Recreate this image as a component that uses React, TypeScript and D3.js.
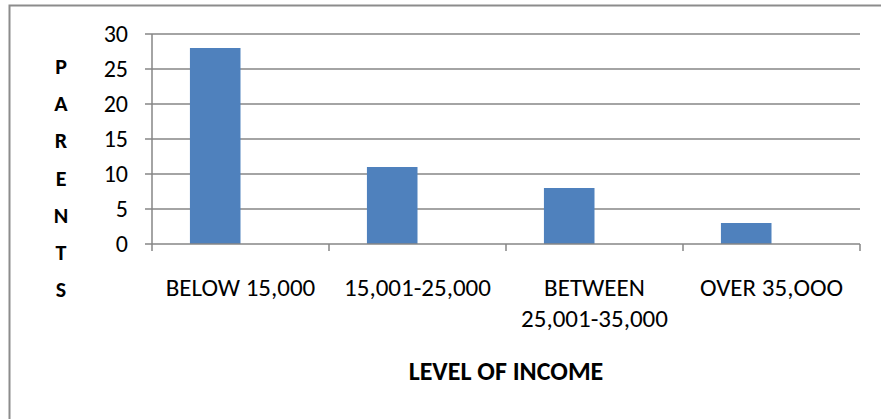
import React from "react";
import * as d3 from "d3";

const categories: string[][] = [
  ["BELOW 15,000"],
  ["15,001-25,000"],
  ["BETWEEN", "25,001-35,000"],
  ["OVER 35,OOO"],
];
const values: number[] = [28, 11, 8, 3];
const yTicks: number[] = [0, 5, 10, 15, 20, 25, 30];
const yTitle: string[] = ["P", "A", "R", "E", "N", "T", "S"];
const xTitle = "LEVEL OF INCOME";

const W = 881;
const H = 419;
const FONT = "Carlito, Lato, 'Open Sans', sans-serif";

export default function App() {
  const left = 152;
  const right = 860;
  const top = 34;
  const bottom = 244;
  const x = d3.scaleBand<number>().domain(d3.range(categories.length)).range([left, right]).padding(0);
  const y = d3.scaleLinear().domain([0, 30]).range([bottom, top]);
  const bw = x.bandwidth();
  const barW = bw / 3.5;
  const barOff = barW * 0.75;
  const grid = "#868686";

  return (
    <svg width={W} height={H} style={{ position: "absolute", left: 0, top: 0, background: "#fff" }}>
      <rect x={9.5} y={5.5} width={W + 10} height={H + 10} fill="#fff" stroke="#8c8c8c" strokeWidth={2} />
      {yTicks.map((t) => (
        <g key={t}>
          {t > 0 && <line x1={left} x2={right} y1={y(t)} y2={y(t)} stroke={grid} strokeWidth={1.5} />}
          <line x1={left - 7} x2={left} y1={y(t)} y2={y(t)} stroke={grid} strokeWidth={1.5} />
          <text x={128} y={y(t) + 8} textAnchor="end" fontFamily={FONT} fontSize={24} fill="#000">
            {t}
          </text>
        </g>
      ))}
      {values.map((v, i) => (
        <rect key={i} x={(x(i) as number) + barOff} y={y(v)} width={barW} height={y(0) - y(v)} fill="#4F81BD" />
      ))}
      <line x1={left} x2={left} y1={top} y2={bottom} stroke={grid} strokeWidth={1.5} />
      <line x1={left} x2={right} y1={bottom} y2={bottom} stroke={grid} strokeWidth={1.5} />
      {d3.range(categories.length + 1).map((i) => {
        const xx = left + i * bw;
        return <line key={i} x1={xx} x2={xx} y1={bottom} y2={bottom + 7} stroke={grid} strokeWidth={1.5} />;
      })}
      {categories.map((lines, i) => (
        <text key={i} textAnchor="middle" fontFamily={FONT} fontSize={25} fill="#000">
          {lines.map((l, j) => (
            <tspan key={j} x={(x(i) as number) + bw / 2} y={296 + j * 31}>
              {l}
            </tspan>
          ))}
        </text>
      ))}
      {yTitle.map((c, i) => (
        <text key={i} x={61} y={74 + i * 37.2} textAnchor="middle" fontFamily={FONT} fontSize={22} fontWeight="bold" fill="#000">
          {c}
        </text>
      ))}
      <text x={506} y={380} textAnchor="middle" fontFamily={FONT} fontSize={26} fontWeight="bold" fill="#000">
        {xTitle}
      </text>
    </svg>
  );
}
